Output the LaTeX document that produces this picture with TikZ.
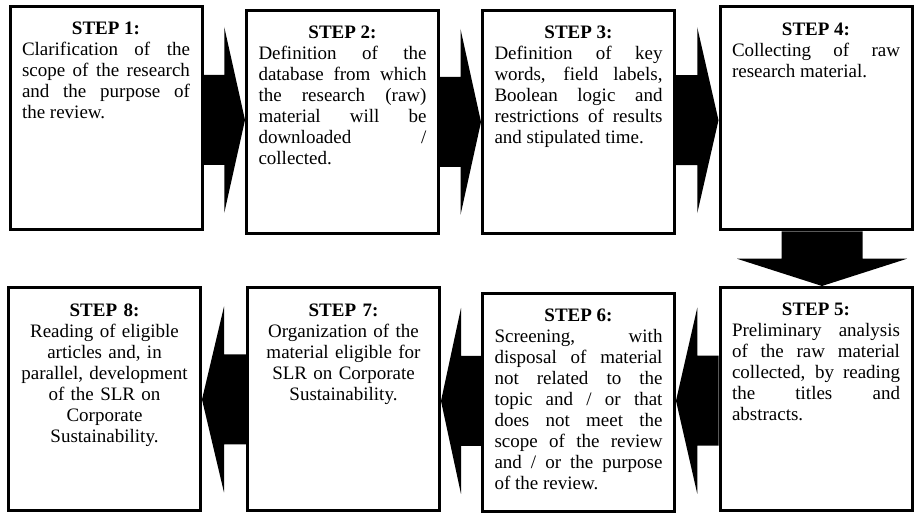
\documentclass[tikz,border=0pt]{standalone}
\usepackage{fontspec}
\setmainfont{Liberation Serif}
\usetikzlibrary{calc}
\tolerance=10000
\hbadness=10000
\hyphenpenalty=10000

\begin{document}
\begin{tikzpicture}[x=1pt,y=1pt,
    stepbox/.style={draw,line width=3pt,text width=168pt,inner xsep=12pt,inner ysep=12.5pt,
      text height=16pt,text depth=182pt,align=justify,font=\fontsize{19}{21}\selectfont}]
  \useasboundingbox (0,0) rectangle (914,514);

  % top row
  \node[stepbox] (s1) at (106,396) {\hspace*{\fill}\textbf{STEP 1:}\hspace*{\fill}\linebreak
    Clarification of the\linebreak scope of the research\linebreak and the purpose of\linebreak the review.};
  \node[stepbox] (s2) at (342.5,392) {\hspace*{\fill}\textbf{STEP 2:}\hspace*{\fill}\linebreak
    Definition of the\linebreak database from which\linebreak the research (raw)\linebreak
    material will be\linebreak downloaded /\linebreak collected.};
  \node[stepbox] (s3) at (578.5,392) {\hspace*{\fill}\textbf{STEP 3:}\hspace*{\fill}\linebreak
    Definition of key\linebreak words, field labels,\linebreak Boolean logic and\linebreak
    restrictions of results\linebreak and stipulated time.};
  \node[stepbox] (s4) at (816,395.5) {\hspace*{\fill}\textbf{STEP 4:}\hspace*{\fill}\linebreak
    Collecting of raw\linebreak research material.};

  % bottom row
  \node[stepbox] (s5) at (816,115) {\hspace*{\fill}\textbf{STEP 5:}\hspace*{\fill}\linebreak
    Preliminary analysis\linebreak of the raw material\linebreak collected, by reading\linebreak
    the titles and\linebreak abstracts.};
  \node[stepbox,text depth=177pt] (s6) at (578.5,111.5) {\hspace*{\fill}\textbf{STEP 6:}\hspace*{\fill}\linebreak
    Screening, with\linebreak disposal of material\linebreak not related to the\linebreak
    topic and / or that\linebreak does not meet the\linebreak scope of the review\linebreak
    and / or the purpose\linebreak of the review.};
  \node[stepbox,align=center] (s7) at (343.5,114.5) {\textbf{STEP 7:}\\
    Organization of the\\ material eligible for\\ SLR on Corporate\\ Sustainability.};
  \node[stepbox,align=center] (s8) at (104.5,114.5) {\textbf{STEP 8:}\\
    Reading of eligible\\ articles and, in\\ parallel,~development\\ of the SLR on\\
    Corporate\\ Sustainability.};

  % block arrows
  \foreach \src/\dst/\sa/\da in {s1/s2/east/west,s2/s3/east/west,s3/s4/east/west,
                                 s5/s6/west/east,s6/s7/west/east,s7/s8/west/east}
    \fill let \p1=(\src.\sa), \p2=(\dst.\da), \n1={(\x1+\x2)/2}, \n2={(\y1+\y2)/2} in
      (\x1,\n2+45) -- (\n1,\n2+45) -- (\n1,\n2+93) -- (\x2,\n2)
      -- (\n1,\n2-93) -- (\n1,\n2-45) -- (\x1,\n2-45) -- cycle;
  \fill let \p1=(s4.south), \p2=(s5.north), \n1={(\y1+\y2)/2}, \n2={\x1+6} in
    (\n2-40.5,\y1) -- (\n2-40.5,\n1) -- (\n2-85,\n1) -- (\n2,\y2)
    -- (\n2+85,\n1) -- (\n2+40.5,\n1) -- (\n2+40.5,\y1) -- cycle;
\end{tikzpicture}
\end{document}
